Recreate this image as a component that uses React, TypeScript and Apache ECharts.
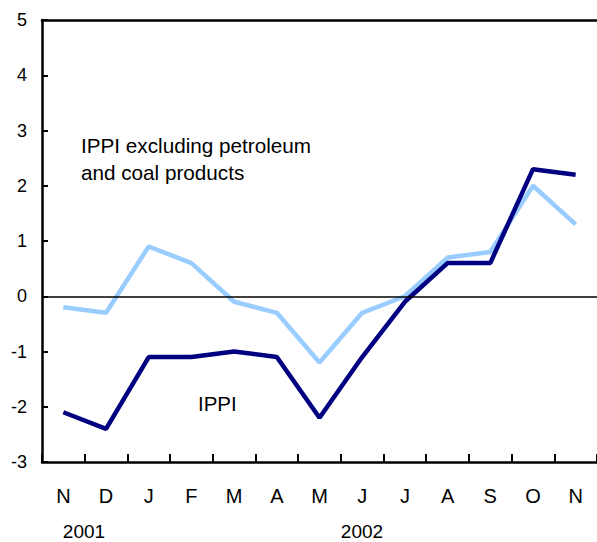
import React, { useEffect, useRef } from "react";
import * as echarts from "echarts";

const months = ["N", "D", "J", "F", "M", "A", "M", "J", "J", "A", "S", "O", "N"];
const ippi = [-2.1, -2.4, -1.1, -1.1, -1.0, -1.1, -2.2, -1.1, -0.1, 0.6, 0.6, 2.3, 2.2];
const ippiExPetroleum = [-0.2, -0.3, 0.9, 0.6, -0.1, -0.3, -1.2, -0.3, 0.0, 0.7, 0.8, 2.0, 1.3];
const yearLabels = ["2001", "2002"];
const yMin = -3;
const yMax = 5;

const FONT = "'Liberation Sans', Arial, sans-serif";

export default function App() {
  const ref = useRef<HTMLDivElement>(null);
  useEffect(() => {
    if (!ref.current) return;
    const chart = echarts.init(ref.current, undefined, { renderer: "svg" });
    chart.setOption({
      animation: false,
      backgroundColor: "#ffffff",
      grid: { left: 42, right: -1, top: 20, bottom: 80, containLabel: false },
      xAxis: [
        {
          type: "category",
          data: months,
          boundaryGap: true,
          position: "bottom",
          axisLine: { show: true, onZero: false, lineStyle: { color: "#000", width: 2.5 } },
          axisTick: { show: true, inside: true, length: 8, interval: 0, lineStyle: { color: "#000", width: 2 } },
          axisLabel: { interval: 0, margin: 24, fontSize: 20, color: "#000", fontFamily: FONT },
          splitLine: { show: false },
        },
        {
          type: "category",
          data: months,
          position: "top",
          axisLine: { show: true, onZero: false, lineStyle: { color: "#000", width: 2.5 } },
          axisTick: { show: false },
          axisLabel: { show: false },
          splitLine: { show: false },
        },
      ],
      yAxis: {
        type: "value",
        min: yMin,
        max: yMax,
        interval: 1,
        axisLine: { show: true, lineStyle: { color: "#000", width: 2.5 } },
        axisTick: { show: true, inside: true, length: 6, lineStyle: { color: "#000", width: 2 } },
        axisLabel: { margin: 15, fontSize: 18, color: "#000", fontFamily: FONT },
        splitLine: { show: false },
      },
      series: [
        {
          name: "IPPI excluding petroleum and coal products",
          type: "line",
          data: ippiExPetroleum,
          symbol: "none",
          lineStyle: { color: "#99CCFF", width: 4.5 },
          z: 3,
          markLine: {
            silent: true,
            symbol: "none",
            label: { show: false },
            lineStyle: { color: "#000", width: 1.5, type: "solid" },
            data: [{ yAxis: 0 }],
          },
        },
        {
          name: "IPPI",
          type: "line",
          data: ippi,
          symbol: "none",
          lineStyle: { color: "#000080", width: 4.5 },
          z: 4,
        },
      ],
      graphic: [
        {
          type: "text",
          left: 81,
          top: 132,
          style: {
            text: "IPPI excluding petroleum\nand coal products",
            fontSize: 20.7,
            lineHeight: 27,
            fontFamily: FONT,
            fill: "#000",
          },
        },
        {
          type: "text",
          left: 198,
          top: 393,
          style: { text: "IPPI", fontSize: 20.5, fontFamily: FONT, fill: "#000" },
        },
        {
          type: "text",
          x: 84,
          y: 531,
          style: { text: yearLabels[0], fontSize: 19, fontFamily: FONT, fill: "#000", align: "center", verticalAlign: "middle" },
        },
        {
          type: "text",
          x: 362,
          y: 531,
          style: { text: yearLabels[1], fontSize: 19, fontFamily: FONT, fill: "#000", align: "center", verticalAlign: "middle" },
        },
      ],
    });
    return () => chart.dispose();
  }, []);
  return (
    <div
      ref={ref}
      style={{ position: "absolute", left: 0, top: 0, width: 597, height: 542 }}
    />
  );
}
